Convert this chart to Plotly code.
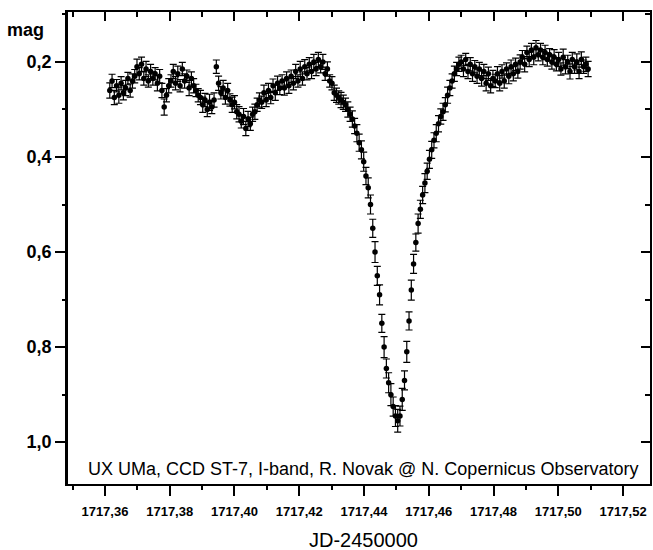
import plotly.graph_objects as go

# JD - 2450000
jd = [
    1717.3615, 1717.3622, 1717.3629, 1717.3636, 1717.3643, 1717.3650, 1717.3657, 1717.3664, 1717.3671, 1717.3678,
    1717.3685, 1717.3692, 1717.3699, 1717.3706, 1717.3713, 1717.3720, 1717.3727, 1717.3734, 1717.3741, 1717.3748,
    1717.3755, 1717.3762, 1717.3769, 1717.3776, 1717.3783, 1717.3790, 1717.3797, 1717.3804, 1717.3811, 1717.3818,
    1717.3825, 1717.3832, 1717.3839, 1717.3846, 1717.3853, 1717.3860, 1717.3867, 1717.3874, 1717.3881, 1717.3888,
    1717.3895, 1717.3902, 1717.3909, 1717.3916, 1717.3923, 1717.3930, 1717.3937, 1717.3944, 1717.3951, 1717.3958,
    1717.3965, 1717.3972, 1717.3979, 1717.3986, 1717.3993, 1717.4000, 1717.4007, 1717.4014, 1717.4021, 1717.4028,
    1717.4035, 1717.4042, 1717.4049, 1717.4056, 1717.4063, 1717.4070, 1717.4077, 1717.4084, 1717.4091, 1717.4098,
    1717.4105, 1717.4112, 1717.4119, 1717.4126, 1717.4133, 1717.4140, 1717.4147, 1717.4154, 1717.4161, 1717.4168,
    1717.4175, 1717.4182, 1717.4189, 1717.4196, 1717.4203, 1717.4210, 1717.4217, 1717.4224, 1717.4231, 1717.4238,
    1717.4245, 1717.4252, 1717.4259, 1717.4266, 1717.4273, 1717.4280, 1717.4287, 1717.4294, 1717.4301, 1717.4308,
    1717.4315, 1717.4322, 1717.4329, 1717.4336, 1717.4343, 1717.4350, 1717.4357, 1717.4364, 1717.4371, 1717.4378,
    1717.4385, 1717.4392, 1717.4399, 1717.4406, 1717.4413, 1717.4420, 1717.4427, 1717.4434, 1717.4441, 1717.4448,
    1717.4455, 1717.4462, 1717.4469, 1717.4476, 1717.4483, 1717.4490, 1717.4497, 1717.4504, 1717.4511, 1717.4518,
    1717.4525, 1717.4532, 1717.4539, 1717.4546, 1717.4553, 1717.4560, 1717.4567, 1717.4574, 1717.4581, 1717.4588,
    1717.4595, 1717.4602, 1717.4609, 1717.4616, 1717.4623, 1717.4630, 1717.4637, 1717.4644, 1717.4651, 1717.4658,
    1717.4665, 1717.4672, 1717.4679, 1717.4686, 1717.4693, 1717.4700, 1717.4707, 1717.4714, 1717.4721, 1717.4728,
    1717.4735, 1717.4742, 1717.4749, 1717.4756, 1717.4763, 1717.4770, 1717.4777, 1717.4784, 1717.4791, 1717.4798,
    1717.4805, 1717.4812, 1717.4819, 1717.4826, 1717.4833, 1717.4840, 1717.4847, 1717.4854, 1717.4861, 1717.4868,
    1717.4875, 1717.4882, 1717.4889, 1717.4896, 1717.4903, 1717.4910, 1717.4917, 1717.4924, 1717.4931, 1717.4938,
    1717.4945, 1717.4952, 1717.4959, 1717.4966, 1717.4973, 1717.4980, 1717.4987, 1717.4994, 1717.5001, 1717.5008,
    1717.5015, 1717.5022, 1717.5029, 1717.5036, 1717.5043, 1717.5050, 1717.5057, 1717.5064, 1717.5071, 1717.5078,
    1717.5085, 1717.5092,
]

mag = [
    0.26, 0.24, 0.275, 0.25, 0.27, 0.245, 0.265, 0.255, 0.235, 0.26, 0.24,
    0.23, 0.21, 0.225, 0.205, 0.235, 0.215, 0.24, 0.22, 0.235, 0.225, 0.245, 0.23,
    0.26, 0.295, 0.27, 0.25,
    0.24, 0.22, 0.245, 0.225, 0.25, 0.215, 0.24, 0.23, 0.255, 0.235, 0.25, 0.26, 0.27,
    0.275, 0.29, 0.28, 0.30, 0.285, 0.295, 0.28,
    0.21,
    0.245, 0.265, 0.255, 0.275, 0.26, 0.28, 0.29, 0.285,
    0.305, 0.31, 0.325, 0.315, 0.34, 0.32, 0.33, 0.31, 0.305,
    0.29, 0.28, 0.285, 0.265, 0.28, 0.26, 0.275, 0.25, 0.265, 0.245, 0.255,
    0.24, 0.255, 0.235, 0.25, 0.23, 0.245, 0.22, 0.24, 0.215, 0.235, 0.21, 0.225, 0.205, 0.22, 0.20,
    0.215, 0.195, 0.21, 0.20, 0.225, 0.215, 0.24, 0.245, 0.265,
    0.27, 0.275, 0.28, 0.285, 0.29, 0.30, 0.31, 0.32, 0.335, 0.35,
    0.37, 0.385, 0.41, 0.44, 0.465, 0.50, 0.55, 0.60, 0.65, 0.69, 0.75, 0.80, 0.845, 0.875, 0.90,
    0.925, 0.945, 0.955, 0.945, 0.91, 0.87, 0.81, 0.745, 0.68, 0.625, 0.58, 0.54, 0.51, 0.48, 0.455,
    0.43, 0.405, 0.385, 0.365, 0.35, 0.33, 0.315, 0.305, 0.29, 0.27, 0.255, 0.24, 0.225, 0.215, 0.205,
    0.20, 0.215, 0.195, 0.22, 0.205, 0.225, 0.21, 0.23, 0.215, 0.235, 0.22,
    0.245, 0.225, 0.25, 0.235, 0.24, 0.225, 0.245,
    0.22, 0.24, 0.215, 0.23, 0.21, 0.225, 0.205, 0.22,
    0.20, 0.19, 0.205, 0.18, 0.195, 0.175, 0.19, 0.17, 0.185, 0.175, 0.19, 0.18, 0.195, 0.185, 0.20,
    0.19, 0.205, 0.195, 0.215, 0.19, 0.21, 0.20, 0.22, 0.195, 0.21, 0.20, 0.22, 0.195, 0.21, 0.205, 0.215,
]

err = [
    0.016, 0.014, 0.015, 0.013, 0.017, 0.014, 0.015, 0.016, 0.013, 0.014, 0.015,
    0.014, 0.016, 0.013, 0.015, 0.014, 0.016, 0.013, 0.015, 0.014, 0.013, 0.016, 0.014,
    0.015, 0.017, 0.014, 0.015,
    0.013, 0.015, 0.014, 0.016, 0.013, 0.014, 0.015, 0.013, 0.016, 0.014, 0.015, 0.013, 0.014,
    0.015, 0.016, 0.014, 0.015, 0.017, 0.014, 0.015,
    0.014,
    0.015, 0.013, 0.016, 0.014, 0.015, 0.013, 0.016, 0.014,
    0.015, 0.016, 0.014, 0.017, 0.015, 0.016, 0.014, 0.015, 0.016,
    0.014, 0.015, 0.013, 0.016, 0.014, 0.015, 0.013, 0.014, 0.016, 0.015, 0.014,
    0.013, 0.015, 0.014, 0.016, 0.013, 0.014, 0.015, 0.013, 0.016, 0.014, 0.015, 0.013, 0.014, 0.015, 0.016,
    0.014, 0.015, 0.013, 0.016, 0.014, 0.015, 0.013, 0.014, 0.016,
    0.015, 0.014, 0.016, 0.015, 0.014, 0.016, 0.015, 0.017, 0.016, 0.018,
    0.018, 0.019, 0.02, 0.018, 0.021, 0.02, 0.019, 0.022, 0.02, 0.021, 0.019, 0.022, 0.02, 0.021, 0.023,
    0.02, 0.022, 0.024, 0.021, 0.023, 0.02, 0.022, 0.019, 0.021, 0.02, 0.018, 0.02, 0.019, 0.018, 0.02,
    0.017, 0.019, 0.018, 0.016, 0.018, 0.017, 0.016, 0.018, 0.015, 0.017, 0.016, 0.015, 0.016, 0.014, 0.015,
    0.014, 0.016, 0.013, 0.015, 0.014, 0.016, 0.013, 0.015, 0.014, 0.016, 0.015,
    0.016, 0.014, 0.015, 0.017, 0.014, 0.015, 0.016,
    0.014, 0.015, 0.013, 0.016, 0.014, 0.015, 0.013, 0.014,
    0.015, 0.014, 0.016, 0.013, 0.015, 0.014, 0.016, 0.015, 0.013, 0.014, 0.016, 0.015, 0.014, 0.013, 0.015,
    0.016, 0.014, 0.015, 0.013, 0.017, 0.015, 0.014, 0.016, 0.015, 0.014, 0.017, 0.015, 0.016, 0.014, 0.015, 0.016,
]

if not (len(jd) == len(mag) == len(err)):
    raise ValueError(f"length mismatch {len(jd)} {len(mag)} {len(err)}")

x_major = [1717.36, 1717.38, 1717.40, 1717.42, 1717.44, 1717.46, 1717.48, 1717.50, 1717.52]
x_minor = [1717.35, 1717.37, 1717.39, 1717.41, 1717.43, 1717.45, 1717.47, 1717.49, 1717.51]
y_major = [0.2, 0.4, 0.6, 0.8, 1.0]
y_minor = [0.1, 0.3, 0.5, 0.7, 0.9]
x_range = [1717.3486, 1717.5283]
y_range = [1.088, 0.095]

FONT = "Liberation Sans, Arial, sans-serif"

fig = go.Figure()
fig.add_trace(go.Scatter(
    x=jd, y=mag, mode="markers",
    marker=dict(color="black", size=5.5),
    error_y=dict(type="data", array=err, color="black", thickness=1.2, width=3.5),
    showlegend=False, hoverinfo="x+y",
))
# helper (invisible) traces so the extra tick-only axes get drawn
for xa, ya in (("x2", "y2"), ("x3", "y3"), ("x4", "y4")):
    fig.add_trace(go.Scatter(
        x=[jd[0]], y=[mag[0]], xaxis=xa, yaxis=ya, mode="markers",
        marker=dict(opacity=0), showlegend=False, hoverinfo="skip",
    ))

base = dict(showgrid=False, zeroline=False, linecolor="black", tickcolor="black", tickmode="array")

fig.update_layout(
    width=653, height=550,
    margin=dict(l=68, r=3, t=12, b=66),
    paper_bgcolor="white", plot_bgcolor="white",
    separators=",.",
    font=dict(family=FONT, color="black"),
    # bottom / left: labelled major axes
    xaxis=dict(
        **base, tickvals=x_major, range=x_range, tickformat=".2f", showline=True,
        ticks="outside", ticklen=10, tickwidth=2, linewidth=2,
        tickfont=dict(size=13, weight="bold"), ticklabelstandoff=4,
    ),
    yaxis=dict(
        **base, tickvals=y_major, range=y_range, tickformat=".1f", showline=True,
        ticks="outside", ticklen=10, tickwidth=2, linewidth=2.5,
        tickfont=dict(size=18, weight="bold"), ticklabelstandoff=0,
    ),
    # top / right: mirrored frame with inward major ticks
    xaxis2=dict(
        **base, tickvals=x_major, overlaying="x", side="top", range=x_range, showline=True,
        ticks="inside", ticklen=9, tickwidth=2, linewidth=2, showticklabels=False,
    ),
    yaxis2=dict(
        **base, tickvals=y_major, overlaying="y", side="right", range=y_range, showline=True,
        ticks="inside", ticklen=9, tickwidth=2, linewidth=1.5, showticklabels=False,
    ),
    # minor ticks: bottom/left outward
    xaxis3=dict(
        **base, tickvals=x_minor, overlaying="x", side="bottom", range=x_range, showline=False,
        ticks="outside", ticklen=5, tickwidth=2, showticklabels=False,
    ),
    yaxis3=dict(
        **base, tickvals=y_minor, overlaying="y", side="left", range=y_range, showline=False,
        ticks="outside", ticklen=5, tickwidth=2, showticklabels=False,
    ),
    # minor ticks: top/right inward
    xaxis4=dict(
        **base, tickvals=x_minor, overlaying="x", side="top", range=x_range, showline=False,
        ticks="inside", ticklen=5, tickwidth=2, showticklabels=False,
    ),
    yaxis4=dict(
        **base, tickvals=y_minor, overlaying="y", side="right", range=y_range, showline=False,
        ticks="inside", ticklen=5, tickwidth=2, showticklabels=False,
    ),
    annotations=[
        dict(text="mag", xref="paper", yref="paper", x=-0.037, y=0.962, xanchor="right", yanchor="middle",
             showarrow=False, font=dict(size=18, weight="bold")),
        dict(text="JD-2450000", xref="paper", yref="paper", x=0.507, y=-0.118, xanchor="center", yanchor="middle",
             showarrow=False, font=dict(size=20)),
        dict(text="UX UMa, CCD ST-7, I-band, R. Novak @ N. Copernicus Observatory", xref="paper", yref="paper",
             x=0.507, y=0.032, xanchor="center", yanchor="middle", showarrow=False, font=dict(size=18)),
    ],
)

fig.write_html("out.html")
